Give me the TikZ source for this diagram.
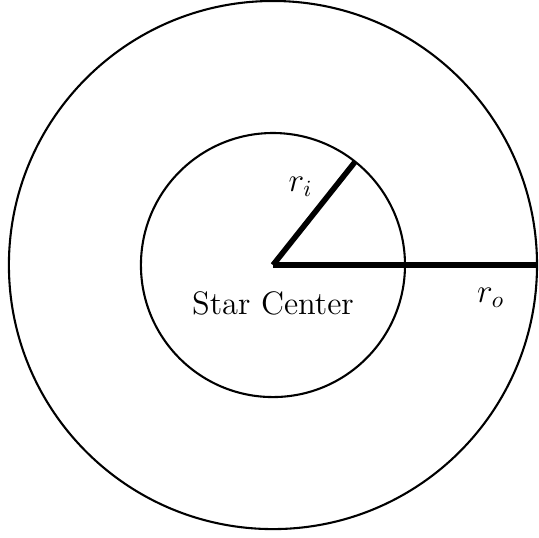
\documentclass[tikz,border=0pt]{standalone}
\usepackage{amsmath,amssymb}
\usepackage{tikz}
\usetikzlibrary{arrows,positioning}

\begin{document}
\begin{tikzpicture}[radius line/.style={line width=2.4pt},
  lbl/.style={font=\fontsize{14}{17}\selectfont}]
\useasboundingbox (-4.135,-4.135) rectangle (4.015,4.015);
% Define the points
\coordinate (O) at (0,0);
\coordinate (I) at (51.5:2);
\coordinate (R) at (4,0);
\node[lbl] (SC) at (0,-0.58) {Star Center};
\node[lbl] (ri) at (0.42,1.18) {$r_i$};
\node[lbl] (ro) at (3.3,-0.5) {$r_o$};

% Draw the circles
\draw[line width=0.9pt] (O) circle (2);
\draw[line width=0.9pt] (O) circle (4);

% Draw the radii
\draw[radius line] (O) -- (I);
\draw[radius line] (O) -- (R);
\end{tikzpicture}
\end{document}
